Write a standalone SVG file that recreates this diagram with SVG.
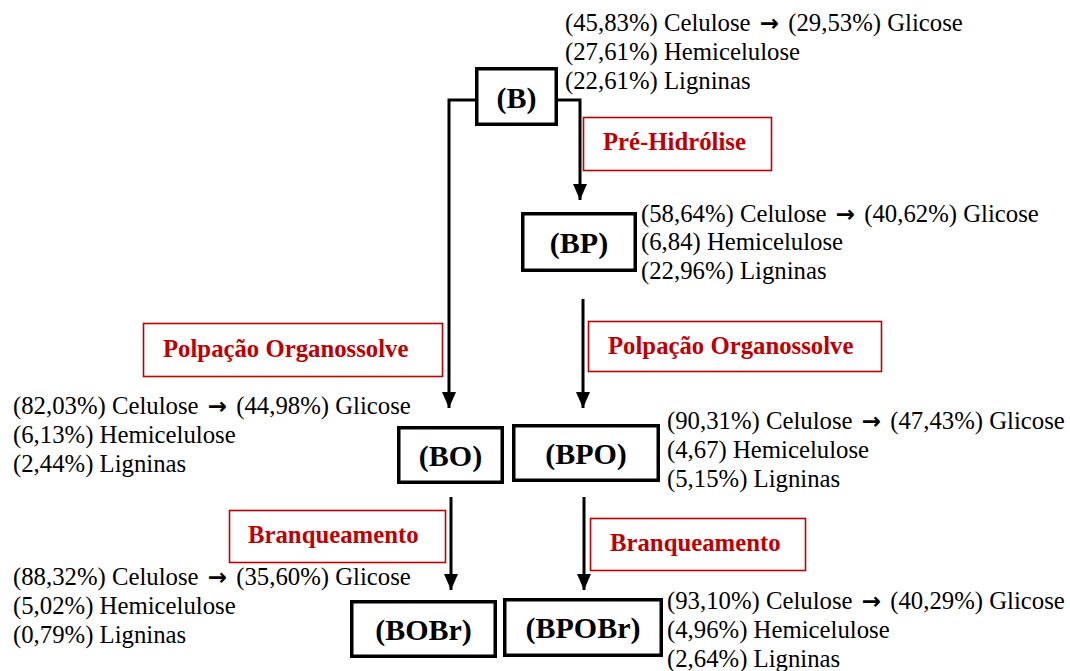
<svg xmlns="http://www.w3.org/2000/svg" width="1070" height="671" viewBox="0 0 1070 671">
  <style>
    .node rect { fill: #ffffff; stroke: #000000; stroke-width: 3.5; }
    .node text { font-family: "Liberation Serif", "Times New Roman", serif; font-weight: bold; font-size: 30px; fill: #000000; text-anchor: middle; dominant-baseline: central; }
    .comp text { font-family: "Liberation Serif", "Times New Roman", serif; font-size: 24.75px; fill: #000000; }
    .comp tspan.arr { font-family: "DejaVu Sans", sans-serif; font-weight: bold; font-size: 23px; }
    .step rect { fill: #ffffff; stroke: #c00000; stroke-width: 1.6; }
    .step text { font-family: "Liberation Serif", "Times New Roman", serif; font-weight: bold; font-size: 24.75px; fill: #c00000; }
    .conn { fill: none; stroke: #000000; stroke-width: 3; }
  </style>
  <defs>
    <marker id="head" markerUnits="userSpaceOnUse" markerWidth="17" markerHeight="14" refX="16" refY="7" orient="auto">
      <path d="M0,0 L16,7 L0,14 Z" fill="#000000"/>
    </marker>
  </defs>

  <!-- connectors -->
  <g id="connectors">
    <polyline class="conn" points="475,100 449,100 449,408" marker-end="url(#head)"/>
    <polyline class="conn" points="557,100 580,100 580,200" marker-end="url(#head)"/>
    <line class="conn" x1="583" y1="299" x2="583" y2="408" marker-end="url(#head)"/>
    <line class="conn" x1="451" y1="497" x2="451" y2="590" marker-end="url(#head)"/>
    <line class="conn" x1="584" y1="497" x2="584" y2="590" marker-end="url(#head)"/>
  </g>

  <!-- process step labels -->
  <g id="step-prehidrolise" class="step">
    <rect x="583.5" y="117.5" width="188" height="53"/>
    <text x="603" y="150">Pré-Hidrólise</text>
  </g>
  <g id="step-polpacao-left" class="step">
    <rect x="143.5" y="323.5" width="299" height="53"/>
    <text x="163" y="357">Polpação Organossolve</text>
  </g>
  <g id="step-polpacao-right" class="step">
    <rect x="588.5" y="321.5" width="293" height="50"/>
    <text x="608" y="354">Polpação Organossolve</text>
  </g>
  <g id="step-branq-left" class="step">
    <rect x="229.5" y="510.5" width="216" height="52"/>
    <text x="248" y="543">Branqueamento</text>
  </g>
  <g id="step-branq-right" class="step">
    <rect x="590.5" y="518.5" width="215" height="52"/>
    <text x="610" y="551">Branqueamento</text>
  </g>

  <!-- material nodes -->
  <g id="node-B" class="node">
    <rect x="476.75" y="68.75" width="79.5" height="55.5"/>
    <text x="516.5" y="97">(B)</text>
  </g>
  <g id="node-BP" class="node">
    <rect x="522.75" y="213.75" width="112.5" height="56.5"/>
    <text x="579" y="242">(BP)</text>
  </g>
  <g id="node-BO" class="node">
    <rect x="398.75" y="427.75" width="103.5" height="54.5"/>
    <text x="450.5" y="455">(BO)</text>
  </g>
  <g id="node-BPO" class="node">
    <rect x="513.75" y="425.75" width="144.5" height="54.5"/>
    <text x="586" y="453">(BPO)</text>
  </g>
  <g id="node-BOBr" class="node">
    <rect x="351.75" y="601.75" width="143.5" height="54.5"/>
    <text x="423.5" y="629">(BOBr)</text>
  </g>
  <g id="node-BPOBr" class="node">
    <rect x="504.75" y="599.75" width="156.5" height="55.5"/>
    <text x="583" y="627">(BPOBr)</text>
  </g>

  <!-- composition notes -->
  <g id="comp-B" class="comp">
    <text x="565" y="31">(45,83%) Celulose <tspan class="arr" dx="3">→</tspan><tspan dx="3"> (29,53%) Glicose</tspan></text>
    <text x="565" y="60">(27,61%) Hemicelulose</text>
    <text x="565" y="89">(22,61%) Ligninas</text>
  </g>
  <g id="comp-BP" class="comp">
    <text x="641" y="222">(58,64%) Celulose <tspan class="arr" dx="3">→</tspan><tspan dx="3"> (40,62%) Glicose</tspan></text>
    <text x="641" y="250">(6,84) Hemicelulose</text>
    <text x="641" y="279">(22,96%) Ligninas</text>
  </g>
  <g id="comp-BO" class="comp">
    <text x="13" y="414">(82,03%) Celulose <tspan class="arr" dx="3">→</tspan><tspan dx="3"> (44,98%) Glicose</tspan></text>
    <text x="13" y="443">(6,13%) Hemicelulose</text>
    <text x="13" y="472">(2,44%) Ligninas</text>
  </g>
  <g id="comp-BPO" class="comp">
    <text x="667" y="429">(90,31%) Celulose <tspan class="arr" dx="3">→</tspan><tspan dx="3"> (47,43%) Glicose</tspan></text>
    <text x="667" y="458">(4,67) Hemicelulose</text>
    <text x="667" y="487">(5,15%) Ligninas</text>
  </g>
  <g id="comp-BOBr" class="comp">
    <text x="13" y="585">(88,32%) Celulose <tspan class="arr" dx="3">→</tspan><tspan dx="3"> (35,60%) Glicose</tspan></text>
    <text x="13" y="614">(5,02%) Hemicelulose</text>
    <text x="13" y="643">(0,79%) Ligninas</text>
  </g>
  <g id="comp-BPOBr" class="comp">
    <text x="667" y="609">(93,10%) Celulose <tspan class="arr" dx="3">→</tspan><tspan dx="3"> (40,29%) Glicose</tspan></text>
    <text x="667" y="638">(4,96%) Hemicelulose</text>
    <text x="667" y="667">(2,64%) Ligninas</text>
  </g>
</svg>
